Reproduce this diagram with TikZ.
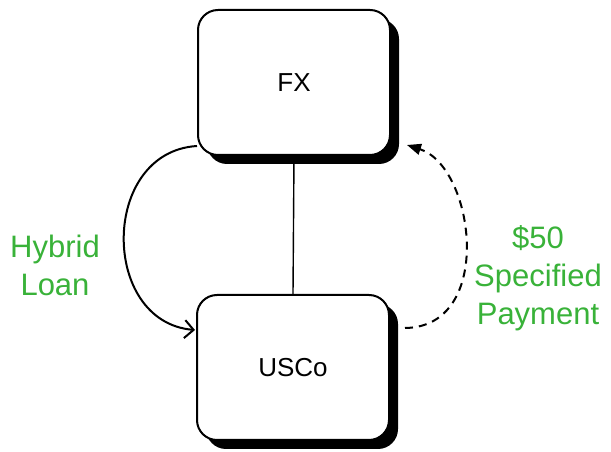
\documentclass[tikz,border=0pt]{standalone}
\usepackage{fontspec}
\setmainfont{Liberation Sans}
\usetikzlibrary{arrows.meta,shadows}
\definecolor{labelgreen}{RGB}{57,178,57}
\tikzset{
  entity/.style={draw=black, line width=2pt, fill=white, rounded corners=20pt,
    minimum width=192pt, minimum height=145pt, inner sep=0pt,
    font=\fontsize{26}{31}\selectfont,
    drop shadow={shadow xshift=9pt, shadow yshift=-9pt, fill=black, opacity=1}},
  flow/.style={line width=2pt},
  note/.style={text=labelgreen, align=center, inner sep=0pt,
    font=\fontsize{31}{38}\selectfont}
}
\begin{document}
\begin{tikzpicture}[x=1pt,y=1pt]
  \useasboundingbox (0,0) rectangle (611,452);
  % the two parties
  \node[entity] (fx) at (294,369.5) {FX};
  \node[entity] (usco) at (293,84.5) {USCo};
  % link between them
  \draw[line width=1.4pt] (fx.south) -- (usco.north);
  % loan from FX to USCo
  \coordinate (loanA) at (197,306);
  \coordinate (loanB) at (195,122);
  \draw[flow, -{Straight Barb[length=9pt,width=18pt,line width=2pt]}]
    (loanA) .. controls (100,300) and (100,130) .. (loanB);
  % payment back from USCo to FX
  \coordinate (payA) at (405,124);
  \coordinate (payB) at (407,307);
  \draw[flow, dash pattern=on 8pt off 6pt, -{Triangle[length=14pt,width=11pt]}]
    (payA) .. controls (495,125) and (475,285) .. (payB);
  % labels
  \node[note, anchor=north] (hl) at (55,217) {Hybrid\\Loan};
  \node[note, anchor=north] (sp) at (538,227) {\$50\\Specified\\Payment};
\end{tikzpicture}
\end{document}
